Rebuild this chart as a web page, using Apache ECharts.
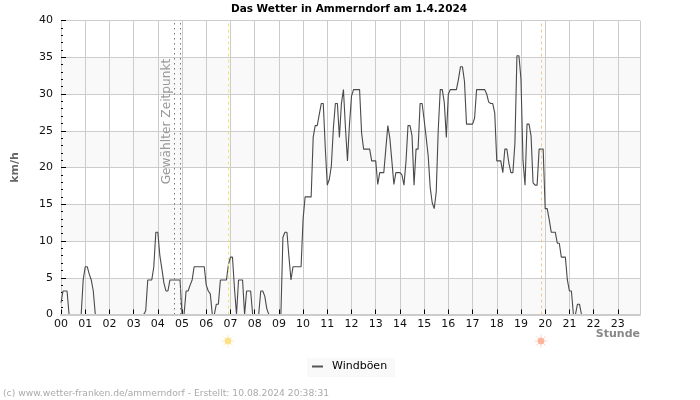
<!DOCTYPE html>
<html>
<head>
<meta charset="utf-8">
<style>
  html, body { margin: 0; padding: 0; background: #fff; }
  #chart { width: 700px; height: 400px; }
</style>
<script src="https://cdn.jsdelivr.net/npm/echarts@6/dist/echarts.min.js"></script>
</head>
<body>
<div id="chart"></div>
<script>
const hourLabels = ['00', '01', '02', '03', '04', '05', '06', '07', '08', '09', '10', '11',
  '12', '13', '14', '15', '16', '17', '18', '19', '20', '21', '22', '23']

// Windboeen in km/h, one value every 5 minutes, one row per hour
const gusts = [
  1.6, 3.2, 3.2, 3.2, 0, 0, 0, 0, 0, 0, 0, 4.7,
  6.5, 6.5, 5.5, 4.7, 3.2, 0, 0, 0, 0, 0, 0, 0,
  0, 0, 0, 0, 0, 0, 0, 0, 0, 0, 0, 0,
  0, 0, 0, 0, 0, 0, 0.5, 4.7, 4.7, 4.7, 6.5, 11.2,
  11.2, 8, 6.2, 4.3, 3.2, 3.2, 4.7, 4.7, 4.7, 4.7, 4.7, 4.7,
  0, 0, 3.2, 3.2, 4, 4.7, 6.5, 6.5, 6.5, 6.5, 6.5, 6.5,
  4, 3.2, 2.8, 0, 0, 1.4, 1.4, 4.7, 4.7, 4.7, 4.7, 6.8,
  7.8, 7.8, 3.5, 0, 4.7, 4.7, 4.7, 0, 3.2, 3.2, 3.2, 0,
  0, 0, 0, 3.2, 3.2, 2.5, 0.8, 0, 0, 0, 0, 0,
  0, 0, 10.5, 11.2, 11.2, 7.8, 4.7, 6.5, 6.5, 6.5, 6.5, 6.5,
  13, 16, 16, 16, 16, 24.1, 25.7, 25.7, 27.2, 28.7, 28.7, 22.7,
  17.6, 18.4, 20.2, 25.3, 28.7, 28.7, 24.1, 28.7, 30.6, 25.4, 20.9, 25.9,
  29.7, 30.6, 30.6, 30.6, 30.6, 24.7, 22.5, 22.5, 22.5, 22.5, 20.9, 20.9,
  20.9, 17.7, 19.3, 19.3, 19.3, 22.5, 25.7, 24, 20.9, 17.7, 19.3, 19.3,
  19.3, 19, 17.6, 20.8, 25.7, 25.7, 24.3, 17.6, 22.5, 22.5, 28.7, 28.7,
  26.5, 24.1, 21.6, 17.3, 15.2, 14.4, 16.7, 25.2, 30.6, 30.6, 28.8, 24.1,
  30, 30.6, 30.6, 30.6, 30.6, 32, 33.7, 33.7, 31.7, 25.9, 25.9, 25.9,
  25.9, 26.7, 30.6, 30.6, 30.6, 30.6, 30.6, 30, 28.9, 28.7, 28.7, 27.4,
  20.9, 20.9, 20.9, 19.3, 22.5, 22.5, 20.6, 19.3, 19.3, 23.3, 35.2, 35.2,
  32, 21, 17.6, 25.9, 25.9, 24.3, 17.9, 17.6, 17.6, 22.5, 22.5, 22.5,
  14.4, 14.4, 12.9, 11.2, 11.2, 11.2, 9.7, 9.7, 7.8, 7.8, 7.8, 4.7,
  3.2, 3.2, 0, 0, 1.4, 1.4, 0, 0, 0, 0, 0, 0,
  0, 0, 0, 0, 0, 0, 0, 0, 0, 0, 0, 0,
  0, 0, 0, 0, 0, 0, 0, 0, 0, 0, 0, 0
]

// hour of the vertical marker lines
const selectedTimes = [4.68, 4.94]
const sunrise = 6.92
const sunset = 19.85

const lastHour = 287 * 5 / 60
const fontName = 'DejaVu Sans'

const drawSun = (x, y, color) => {
  const parts = [{
    type: 'circle',
    shape: { cx: x, cy: y, r: 3.5 },
    style: { fill: color },
    silent: true
  }]
  for (let i = 0; i < 8; i++) {
    const a = i * Math.PI / 4
    parts.push({
      type: 'line',
      shape: {
        x1: x + Math.cos(a) * 4,
        y1: y + Math.sin(a) * 4,
        x2: x + Math.cos(a) * 6.5,
        y2: y + Math.sin(a) * 6.5
      },
      style: { stroke: color, lineWidth: 1, opacity: 0.6 },
      silent: true
    })
  }
  return parts
}

const chart = echarts.init(document.getElementById('chart'), null, { renderer: 'canvas' })

const option = {
  animation: false,
  backgroundColor: '#fff',
  textStyle: { fontFamily: fontName },
  title: [
    {
      text: 'Das Wetter in Ammerndorf am 1.4.2024',
      left: 344,
      top: -1,
      textAlign: 'center',
      textStyle: { fontFamily: fontName, fontSize: 10.5, fontWeight: 'bold', color: '#000' }
    },
    {
      text: '(c) www.wetter-franken.de/ammerndorf - Erstellt: 10.08.2024 20:38:31',
      left: 3,
      top: 389,
      padding: 0,
      textStyle: { fontFamily: fontName, fontSize: 9.2, fontWeight: 'normal', color: '#aaa' }
    }
  ],
  legend: {
    left: 307,
    top: 358,
    data: ['Windböen'],
    icon: 'rect',
    itemWidth: 11,
    itemHeight: 2,
    itemGap: 0,
    padding: [3, 8, 5, 5],
    backgroundColor: '#f9f9f9',
    textStyle: { fontFamily: fontName, fontSize: 11, color: '#000', padding: [0, 0, 0, 4] }
  },
  grid: { left: 61, right: 60, top: 20.5, height: 294 },
  xAxis: [
    {
      type: 'value',
      min: 0,
      max: lastHour,
      interval: 1,
      axisLine: { lineStyle: { color: '#ccc' } },
      axisTick: { inside: true, length: 5, lineStyle: { color: '#000' } },
      axisLabel: {
        showMaxLabel: false,
        margin: 4,
        color: '#111',
        fontFamily: fontName,
        fontSize: 11,
        formatter: value => hourLabels[value] || ''
      },
      splitLine: { lineStyle: { color: '#ccc' } }
    },
    {
      // zero line stays over the data like in the original
      type: 'value',
      min: 0,
      max: lastHour,
      position: 'bottom',
      z: 5,
      axisLine: { show: true, onZero: false, lineStyle: { color: '#ccc', width: 2 } },
      axisTick: { show: false },
      axisLabel: { show: false },
      splitLine: { show: false }
    }
  ],
  yAxis: {
    type: 'value',
    min: 0,
    max: 40,
    interval: 5,
    name: 'km/h',
    nameLocation: 'middle',
    nameGap: 40,
    nameTextStyle: { fontFamily: fontName, fontSize: 11, fontWeight: 'bold', color: '#666' },
    axisLine: { show: true, lineStyle: { color: '#ccc' } },
    axisTick: { show: true, inside: true, length: 5, lineStyle: { color: '#000' } },
    minorTick: { show: true, splitNumber: 5, length: 2, lineStyle: { color: '#000' } },
    axisLabel: { margin: 8, color: '#111', fontFamily: fontName, fontSize: 11 },
    splitLine: { lineStyle: { color: '#ccc' } },
    splitArea: { show: true, areaStyle: { color: ['#f9f9f9', '#fff'] } }
  },
  series: [
    {
      name: 'Windböen',
      type: 'line',
      data: gusts.map((v, i) => [i * 5 / 60, v]),
      showSymbol: false,
      clip: true,
      color: '#555',
      lineStyle: { color: '#4a4a4a', width: 1.1 },
      markLine: {
        silent: true,
        symbol: 'none',
        label: { show: false },
        data: [
          { xAxis: selectedTimes[0], lineStyle: { color: '#777', type: [1.5, 3.5], width: 1 } },
          { xAxis: selectedTimes[1], lineStyle: { color: '#777', type: [1.5, 3.5], width: 1 } },
          { xAxis: sunrise, lineStyle: { color: '#f2e36b', type: [3, 3], width: 1 } },
          { xAxis: sunset, lineStyle: { color: '#f5c98a', type: [3, 3], width: 1 } }
        ]
      }
    }
  ],
  graphic: [
    {
      type: 'text',
      x: 167,
      y: 121.5,
      z: 10,
      rotation: Math.PI / 2,
      silent: true,
      style: {
        text: 'Gewählter Zeitpunkt',
        fill: '#999',
        font: '12.2px "DejaVu Sans"',
        align: 'center',
        verticalAlign: 'middle'
      }
    },
    {
      type: 'text',
      x: 640,
      y: 334,
      z: 10,
      silent: true,
      style: {
        text: 'Stunde',
        fill: '#888',
        font: 'bold 11px "DejaVu Sans"',
        align: 'right',
        verticalAlign: 'middle'
      }
    },
    ...drawSun(228, 341, '#fde08a'),
    ...drawSun(541, 341, '#ffb49c')
  ]
}

chart.setOption(option)
</script>
</body>
</html>
